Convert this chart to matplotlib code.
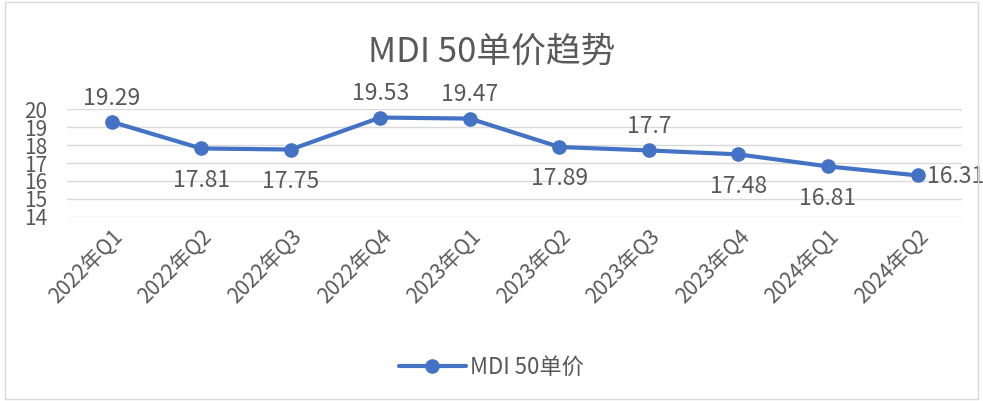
import matplotlib.pyplot as plt
import matplotlib.transforms as mtransforms
from matplotlib.patches import Rectangle

plt.rcParams['font.family'] = ['Noto Sans CJK SC', 'DejaVu Sans']

quarters = ['2022年Q1', '2022年Q2', '2022年Q3', '2022年Q4', '2023年Q1',
            '2023年Q2', '2023年Q3', '2023年Q4', '2024年Q1', '2024年Q2']
prices = [19.29, 17.81, 17.75, 19.53, 19.47, 17.89, 17.7, 17.48, 16.81, 16.31]
label_pos = ['above', 'below', 'below', 'above', 'above',
             'below', 'above', 'below', 'below', 'right']

TEXT = '#595959'
BLUE = '#4472C4'

fig = plt.figure(figsize=(9.83, 4.01), dpi=100)
fig.patches.append(Rectangle((0.005, 0.005), 0.99, 0.99, transform=fig.transFigure,
                             fill=False, edgecolor='#D9D9D9', linewidth=1))
ax = fig.add_axes([0.068, 0.459, 0.911, 0.269])

x = list(range(len(quarters)))
ax.plot(x, prices, color=BLUE, linewidth=3, marker='o', markersize=9.5,
        label='MDI 50单价', solid_capstyle='round')

for xi, v, pos in zip(x, prices, label_pos):
    txt = f'{v:g}'
    if pos == 'above':
        ax.annotate(txt, (xi, v), xytext=(0, 17), textcoords='offset points',
                    ha='center', va='center', fontsize=16.5, color=TEXT)
    elif pos == 'below':
        ax.annotate(txt, (xi, v), xytext=(0, -23), textcoords='offset points',
                    ha='center', va='center', fontsize=16.5, color=TEXT)
    else:
        ax.annotate(txt, (xi, v), xytext=(7, -1), textcoords='offset points',
                    ha='left', va='center', fontsize=16.5, color=TEXT)

ax.set_xlim(-0.5, len(quarters) - 0.5)
ax.set_ylim(14, 20)
ax.set_yticks(range(14, 21))
ax.set_xticks(x)
ax.set_xticklabels(quarters, rotation=45, ha='right', va='top', rotation_mode='anchor')
offset = mtransforms.ScaledTranslation(2 / 72, 0, fig.dpi_scale_trans)
for lbl in ax.get_xticklabels():
    lbl.set_transform(lbl.get_transform() + offset)

ax.tick_params(axis='both', length=0, colors=TEXT)
ax.tick_params(axis='y', pad=14, labelsize=15)
ax.tick_params(axis='x', pad=6, labelsize=15)
ax.grid(axis='y', color='#D9D9D9', linewidth=1)
ax.set_axisbelow(True)
for s in ax.spines.values():
    s.set_visible(False)

fig.suptitle('MDI 50单价趋势', fontsize=25, color=TEXT, y=0.915)
fig.legend(loc='center', bbox_to_anchor=(0.5, 0.085), frameon=False,
           fontsize=16, labelcolor=TEXT, handlelength=3.0, handletextpad=0.2)

fig.savefig('out.png', dpi=100)
